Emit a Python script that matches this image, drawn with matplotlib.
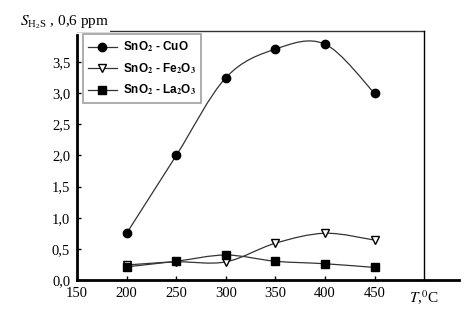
import numpy as np
import matplotlib.pyplot as plt
from matplotlib.path import Path
from matplotlib.patches import PathPatch

# temperatures, deg C
temp = [200, 250, 300, 350, 400, 450]

# sensitivity to H2S, 0.6 ppm
cuo = [0.75, 2.0, 3.25, 3.71, 3.79, 3.0]
fe2o3 = [0.24, 0.29, 0.29, 0.59, 0.75, 0.64]
la2o3 = [0.21, 0.30, 0.40, 0.30, 0.26, 0.20]

yticks = [0.0, 0.5, 1.0, 1.5, 2.0, 2.5, 3.0, 3.5]
xticks = [150, 200, 250, 300, 350, 400, 450]


def smooth_path(x, y, t=0.5):
    # Catmull-Rom style bezier through the points
    x = np.asarray(x, float)
    y = np.asarray(y, float)
    verts = [(x[0], y[0])]
    codes = [Path.MOVETO]
    n = len(x)
    for i in range(n - 1):
        i0 = max(i - 1, 0)
        i3 = min(i + 2, n - 1)
        c1 = (x[i] + (x[i + 1] - x[i0]) * t / 3, y[i] + (y[i + 1] - y[i0]) * t / 3)
        c2 = (x[i + 1] - (x[i3] - x[i]) * t / 3, y[i + 1] - (y[i3] - y[i]) * t / 3)
        verts += [c1, c2, (x[i + 1], y[i + 1])]
        codes += [Path.CURVE4] * 3
    return Path(verts, codes)


plt.rcParams['font.family'] = ['Liberation Serif', 'DejaVu Serif']
plt.rcParams['mathtext.fontset'] = 'stix'

fig = plt.figure(figsize=(4.73, 3.17), dpi=100)
ax = fig.add_axes([0.163, 0.117, 0.807, 0.785])

series = [(cuo, 'o', 'black', r'SnO$_\mathbf{2}$ - CuO'),
          (fe2o3, 'v', 'white', r'SnO$_\mathbf{2}$ - Fe$_\mathbf{2}$O$_\mathbf{3}$'),
          (la2o3, 's', 'black', r'SnO$_\mathbf{2}$ - La$_\mathbf{2}$O$_\mathbf{3}$')]

for vals, mk, fc, lab in series:
    ax.add_patch(PathPatch(smooth_path(temp, vals), fill=False, edgecolor='#333333', lw=0.9))
    ax.plot(temp, vals, ls='none', marker=mk, ms=6, mfc=fc, mec='black', mew=1.0, zorder=3)
    ax.plot([], [], color='#333333', lw=0.9, marker=mk, ms=6, mfc=fc, mec='black', label=lab)

ax.set_xlim(150, 535)
ax.set_ylim(0, 4.0)

# frame around the plot area
ax.plot([150, 500], [4.0, 4.0], color='#333333', lw=1.0, clip_on=False)
ax.plot([500, 500], [0, 4.0], color='black', lw=1.0, clip_on=False)

ax.spines['top'].set_visible(False)
ax.spines['right'].set_visible(False)
ax.spines['left'].set_linewidth(2)
ax.spines['bottom'].set_linewidth(2)
ax.spines['left'].set_bounds(0, 3.93)

ax.set_xticks(xticks)
ax.set_yticks(yticks)
ax.set_yticklabels([f'{v:.1f}'.replace('.', ',') for v in yticks])
ax.tick_params(direction='in', length=3, width=1, labelsize=10.5, pad=5)

ax.text(-0.15, 1.036, r'$S_{\mathregular{H_2S}}$ , 0,6 ppm', transform=ax.transAxes,
        fontsize=11, va='center', ha='left',
        bbox=dict(facecolor='white', edgecolor='none', pad=1), zorder=5, clip_on=False)
ax.text(485, -0.15, r'$T$,$^{0}$C', fontsize=11, va='top', ha='left')

leg = ax.legend(loc='upper left', bbox_to_anchor=(0.0, 1.01), frameon=True, fancybox=False,
                edgecolor='#888888', handlelength=2.4, handletextpad=0.5, borderpad=0.45,
                labelspacing=0.6,
                prop={'family': 'Liberation Sans', 'weight': 'bold', 'size': 8.5})
leg.get_frame().set_linewidth(1.2)

plt.savefig('out.png', dpi=100)
